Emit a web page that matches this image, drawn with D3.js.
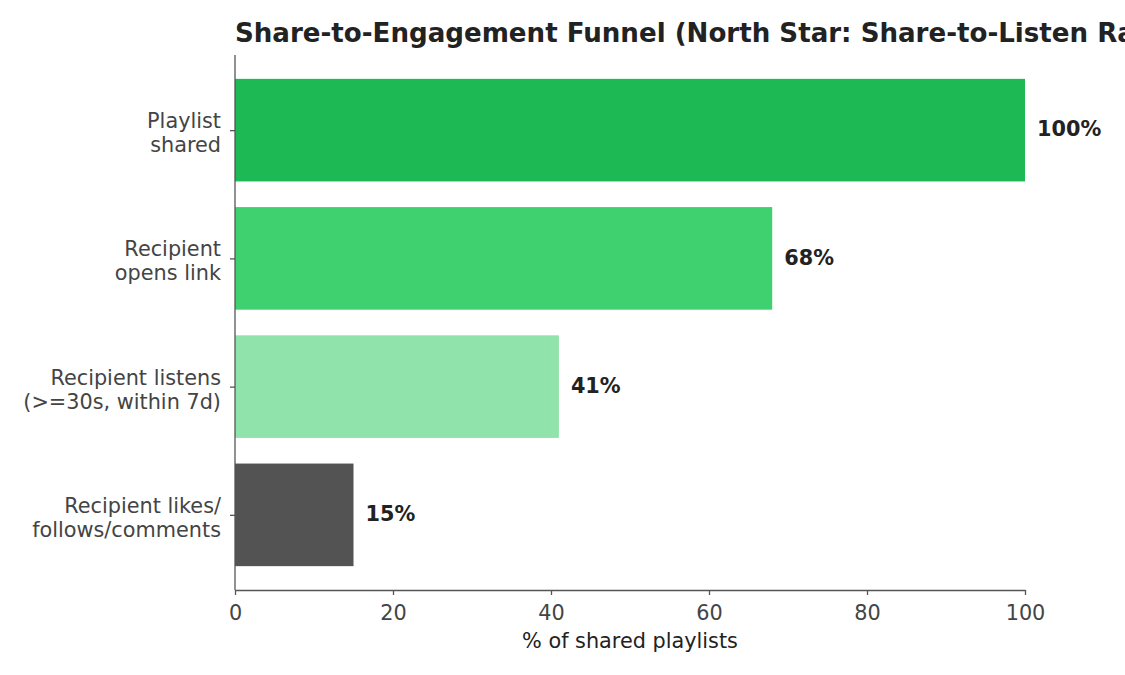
<!DOCTYPE html>
<html>
<head>
<meta charset="utf-8">
<script src="https://cdn.jsdelivr.net/npm/d3@7"></script>
<style>
  html, body { margin: 0; padding: 0; background: #fff; overflow: hidden; }
  svg { display: block; font-family: "DejaVu Sans", sans-serif; }
</style>
</head>
<body>
<svg id="chart" width="1125" height="675"></svg>
<script>
const stages = [
  ["Playlist", "shared"],
  ["Recipient", "opens link"],
  ["Recipient listens", "(>=30s, within 7d)"],
  ["Recipient likes/", "follows/comments"]
];
const values = [100, 68, 41, 15];
const colors = ["#1db954", "#3fd16f", "#90e3ab", "#535353"];
const xTicks = [0, 20, 40, 60, 80, 100];
const titleText = "Share-to-Engagement Funnel (North Star: Share-to-Listen Rate)";
const xLabel = "% of shared playlists";

(function () {
const svg = d3.select("#chart");
const mLeft = 235, mRight = 1025, mTop = 55, mBottom = 590;
const fs = 20.8;

const x = d3.scaleLinear().domain([0, 100]).range([mLeft, mRight]);
const y = d3.scaleLinear().domain([-0.586, 3.586]).range([mTop, mBottom]);
const barH = y(0.4) - y(-0.4);

// bars
svg.append("g").selectAll("rect").data(values).join("rect")
  .attr("x", x(0))
  .attr("y", (d, i) => y(i - 0.4))
  .attr("width", d => x(d) - x(0))
  .attr("height", barH)
  .attr("fill", (d, i) => colors[i]);

// value labels
svg.append("g").selectAll("text").data(values).join("text")
  .attr("x", d => x(d) + 12)
  .attr("y", (d, i) => y(i))
  .attr("dy", "0.3em")
  .attr("font-size", fs)
  .attr("font-weight", "bold")
  .attr("fill", "#222")
  .text(d => d + "%");

// x axis
const xAxis = svg.append("g")
  .attr("transform", `translate(0,${mBottom})`)
  .call(d3.axisBottom(x).tickValues(xTicks).tickSize(5).tickPadding(10).tickSizeOuter(0));
xAxis.select(".domain").attr("stroke", "#555").attr("stroke-width", 1.3);
xAxis.selectAll(".tick line").attr("stroke", "#555").attr("stroke-width", 1.3);
xAxis.selectAll(".tick text").attr("font-size", fs).attr("fill", "#444").attr("font-family", "DejaVu Sans");

// y axis
const yAxis = svg.append("g")
  .attr("transform", `translate(${mLeft},0)`)
  .call(d3.axisLeft(y).tickValues(d3.range(stages.length)).tickSize(5).tickFormat(() => "").tickSizeOuter(0));
yAxis.select(".domain").attr("stroke", "#555").attr("stroke-width", 1.3).attr("d", `M0,${mTop}V${mBottom}`);
yAxis.selectAll(".tick line").attr("stroke", "#555").attr("stroke-width", 1.3);

// y tick labels (two lines)
const yl = svg.append("g").selectAll("text").data(stages).join("text")
  .attr("x", mLeft - 14)
  .attr("y", (d, i) => y(i))
  .attr("text-anchor", "end")
  .attr("font-size", fs)
  .attr("fill", "#444");
yl.each(function(d) {
  const t = d3.select(this);
  t.append("tspan").attr("x", mLeft - 14).attr("dy", "-0.1em").text(d[0]);
  t.append("tspan").attr("x", mLeft - 14).attr("dy", "1.16em").text(d[1]);
});

// x label
svg.append("text")
  .attr("x", (mLeft + mRight) / 2)
  .attr("y", 648)
  .attr("text-anchor", "middle")
  .attr("font-size", fs)
  .attr("fill", "#222")
  .text(xLabel);

// title
svg.append("text")
  .attr("x", mLeft)
  .attr("y", 42)
  .attr("font-size", 26.1)
  .attr("font-weight", "bold")
  .attr("fill", "#222")
  .text(titleText);
})();
</script>
</body>
</html>
